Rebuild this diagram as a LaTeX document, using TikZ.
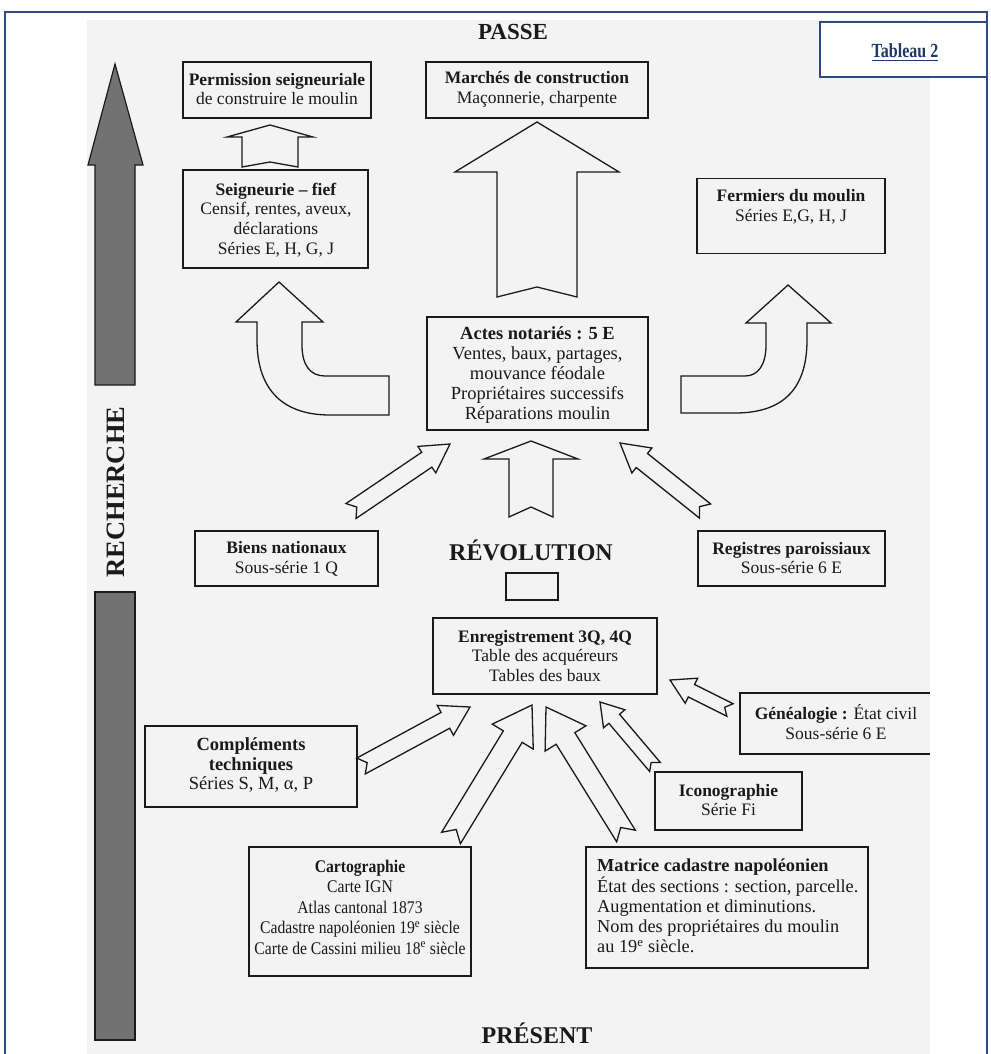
\documentclass[tikz,border=0pt]{standalone}
\usepackage{fontspec}
\setmainfont{Liberation Serif}
\newfontfamily\condfont[FakeStretch=0.8]{Liberation Serif}
\newfontfamily\narrowfont[FakeStretch=0.88]{Liberation Serif}
\usetikzlibrary{calc}
\definecolor{frameblue}{HTML}{2F4A80}
\definecolor{titleblue}{HTML}{1F3864}
\definecolor{scan}{HTML}{F3F3F3}
\definecolor{ink}{HTML}{1A1A1A}
\definecolor{bargray}{HTML}{727272}
\tikzset{
  box/.style={draw=ink, line width=1.4pt, inner sep=0pt},
  txt/.style={text=ink, align=center, font=\fontsize{17.5}{19.8}\selectfont, inner sep=0pt},
  blockarrow/.style={draw=ink, line width=1.3pt, line join=miter},
  bigtitle/.style={font=\fontsize{24}{28}\selectfont\bfseries, text=ink, inner sep=0pt},
}
\newcommand\blockarr[6]{%
  \coordinate (hb) at ($(#2)!#5!(#1)$);
  \draw[blockarrow] ($(#1)!#3!90:(#2)$) -- ($(hb)!#3!90:(#2)$) -- ($(hb)!#4!90:(#2)$) -- (#2)
    -- ($(hb)!#4!-90:(#2)$) -- ($(hb)!#3!-90:(#2)$) -- ($(#1)!#3!-90:(#2)$) -- ($(#1)!#6!(#2)$) -- cycle;
}
\begin{document}
\begin{tikzpicture}[x=1pt,y=-1pt]
\useasboundingbox (0,0) rectangle (990,1054);
\fill[white] (0,0) rectangle (990,1054);
\fill[scan] (87,20) rectangle (930,1054);
% outer frame
\draw[frameblue, line width=2pt] (5,1060) -- (5,12) -- (987,12) -- (987,1060);
% Tableau 2
\node[draw=frameblue, fill=white, line width=1.2pt, minimum width=167pt, minimum height=55pt, inner sep=0pt] (tab) at (903.5,49.5) {};
\node[text=titleblue, font=\condfont\fontsize{20}{24}\selectfont\bfseries, inner sep=0pt] (tabt) at (905,51) {Tableau 2};
\draw[titleblue, line width=1pt] ($(tabt.base west)+(0,3)$) -- ($(tabt.base east)+(0,3)$);

% titles
\node[bigtitle, font=\fontsize{23}{28}\selectfont\bfseries] (passe) at (513,32) {PASSE};
\node[bigtitle] (revo) at (531,550) {RÉVOLUTION};
\node[bigtitle] (present) at (537,1033) {PRÉSENT};
\node[bigtitle, font=\fontsize{26.5}{30}\selectfont\bfseries, rotate=90] (rech) at (116,492) {RECHERCHE};

% gray arrow and bar
\draw[ink, line width=1.2pt, fill=bargray] (95,385) -- (95,165) -- (88,165) -- (115,64) -- (143,165) -- (135,165) -- (135,385) -- cycle;
\draw[ink, line width=1.2pt, fill=bargray] (95,592) rectangle (135,1040);

% boxes
\node[box, minimum width=188pt, minimum height=56pt] (perm) at (277,90) {};
\node[txt] (permt) at (277,89) {\textbf{Permission seigneuriale}\\de construire le moulin};
\node[box, minimum width=222pt, minimum height=56pt] (march) at (537,90) {};
\node[txt] (marcht) at (537,89) {\textbf{Marchés de construction}\\Maçonnerie, charpente};
\node[box, minimum width=185pt, minimum height=98pt] (seig) at (275.5,219) {};
\node[txt] (seigt) at (276,220) {\textbf{Seigneurie – fief}\\Censif, rentes, aveux,\\déclarations\\Séries E, H, G, J};
\node[box, minimum width=188pt, minimum height=75pt] (ferm) at (791,216) {};
\node[txt] (fermt) at (791,207) {\textbf{Fermiers du moulin}\\Séries E,G, H, J};
\node[box, minimum width=221pt, minimum height=113pt] (actes) at (537.5,373.5) {};
\node[txt, font=\fontsize{18.5}{20}\selectfont] (actest) at (537.5,375) {\textbf{Actes notariés : 5 E}\\Ventes, baux, partages,\\mouvance féodale\\Propriétaires successifs\\Réparations moulin};
\node[box, minimum width=183pt, minimum height=55pt] (biens) at (286.5,558.5) {};
\node[txt] (bienst) at (286.5,559) {\textbf{Biens nationaux}\\Sous-série 1 Q};
\node[box, minimum width=187pt, minimum height=55pt] (regis) at (791.5,558.5) {};
\node[txt] (regist) at (791.5,558) {\textbf{Registres paroissiaux}\\Sous-série 6 E};
\node[box, minimum width=52pt, minimum height=27pt] (rect) at (532,586.5) {};
\node[box, minimum width=224pt, minimum height=76pt] (enreg) at (545,656) {};
\node[txt] (enregt) at (545,656) {\textbf{Enregistrement 3Q, 4Q}\\Table des acquéreurs\\Tables des baux};
\node[box, minimum width=212pt, minimum height=81pt] (compl) at (251,766.5) {};
\node[txt, font=\fontsize{18.5}{19.5}\selectfont] (complt) at (251,765) {\textbf{Compléments}\\\textbf{techniques}\\Séries S, M, α, P};
\draw[ink, line width=1.4pt] (930,693) -- (740,693) -- (740,754) -- (930,754);
\coordinate (genea) at (835,723.5);
\node[txt] (geneat) at (836,722) {\textbf{Généalogie :} État civil\\Sous-série 6 E};
\node[box, minimum width=147pt, minimum height=58pt] (icono) at (728.5,801) {};
\node[txt] (iconot) at (728.5,800) {\textbf{Iconographie}\\Série Fi};
\node[box, minimum width=222pt, minimum height=129pt] (carto) at (360,911.5) {};
\node[txt, font=\narrowfont\fontsize{17.8}{20.5}\selectfont] (cartot) at (360,907) {\textbf{Cartographie}\\Carte IGN\\Atlas cantonal 1873\\Cadastre napoléonien 19\textsuperscript{e} siècle\\Carte de Cassini milieu 18\textsuperscript{e} siècle};
\node[box, minimum width=282pt, minimum height=121pt] (matr) at (727,907.5) {};
\node[txt, font=\fontsize{18.3}{20.2}\selectfont, align=left, anchor=west] (matrt) at (597,906) {\textbf{Matrice cadastre napoléonien}\\État des sections : section, parcelle.\\Augmentation et diminutions.\\Nom des propriétaires du moulin\\au 19\textsuperscript{e} siècle.};

% arrow end points
\coordinate (a1t) at (270,167); \coordinate (a1h) at (270,125);
\coordinate (a2t) at (537,297); \coordinate (a2h) at (537,122);
\coordinate (a3t) at (531,517); \coordinate (a3h) at (531,441);
\coordinate (a4t) at (351,511); \coordinate (a4h) at (450,444);
\coordinate (a5t) at (705,511); \coordinate (a5h) at (620,443);
\coordinate (a6t) at (361,766); \coordinate (a6h) at (470,707);
\coordinate (a7t) at (451,838); \coordinate (a7h) at (532,705);
\coordinate (a8t) at (626,836); \coordinate (a8h) at (546,707);
\coordinate (a9t) at (655,767); \coordinate (a9h) at (600,702);
\coordinate (a10t) at (730,710); \coordinate (a10h) at (670,680);

\blockarr{a1t}{a1h}{28pt}{43pt}{12pt}{5pt}
\blockarr{a2t}{a2h}{40pt}{82pt}{50pt}{10pt}
\blockarr{a3t}{a3h}{22pt}{47pt}{18pt}{10pt}
\blockarr{a4t}{a4h}{9pt}{16pt}{28pt}{7pt}
\blockarr{a5t}{a5h}{9pt}{16pt}{28pt}{7pt}
\blockarr{a6t}{a6h}{9pt}{17pt}{28pt}{7pt}
\blockarr{a7t}{a7h}{11pt}{24pt}{37pt}{10pt}
\blockarr{a8t}{a8h}{11pt}{24pt}{37pt}{10pt}
\blockarr{a9t}{a9h}{7pt}{14pt}{22pt}{6pt}
\blockarr{a10t}{a10h}{7pt}{14pt}{24pt}{6pt}

% curved arrows
\draw[blockarrow] (257,322) -- (257,340) .. controls (257,392) and (285,415) .. (330,415) -- (389,415) -- (389,376) -- (325,376) .. controls (310,376) and (302,365) .. (302,345) -- (302,322) -- (323,322) -- (279,282) -- (236,322) -- cycle;
\draw[blockarrow] (807,323) -- (807,340) .. controls (807,392) and (780,413) .. (735,413) -- (681,413) -- (681,376) -- (745,376) .. controls (758,376) and (766,365) .. (766,345) -- (766,323) -- (746,323) -- (788,285) -- (831,323) -- cycle;
\end{tikzpicture}
\end{document}
